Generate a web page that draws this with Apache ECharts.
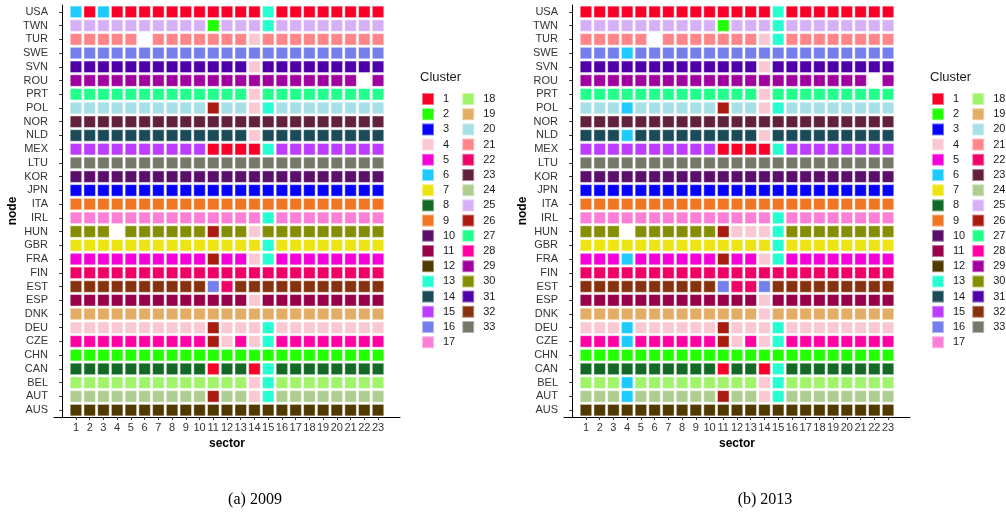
<!DOCTYPE html>
<html>
<head>
<meta charset="utf-8">
<script src="https://cdn.jsdelivr.net/npm/echarts@6/dist/echarts.min.js"></script>
<style>
  html, body { margin: 0; padding: 0; background: #fff; }
  #chart { width: 1006px; height: 522px; }
</style>
</head>
<body>
<div id="chart"></div>
<script>
// Country nodes, top row first
const nodes = ['USA','TWN','TUR','SWE','SVN','ROU','PRT','POL','NOR','NLD','MEX','LTU','KOR','JPN','ITA','IRL','HUN','GBR','FRA','FIN','EST','ESP','DNK','DEU','CZE','CHN','CAN','BEL','AUT','AUS'];
const sectors = [1,2,3,4,5,6,7,8,9,10,11,12,13,14,15,16,17,18,19,20,21,22,23];
const clusterIds = [1,2,3,4,5,6,7,8,9,10,11,12,13,14,15,16,17,18,19,20,21,22,23,24,25,26,27,28,29,30,31,32,33];
const clusterColors = ['#F90028','#22FF00','#0800FF','#FAC8D2','#F500D8','#1ECBFF','#EDE414','#136A27','#F07624','#5B0F6A','#98004A','#503A00','#26FFD2','#1B4B58','#BC3CFF','#747FEB','#FB7FD6','#A0F46A','#E4AD66','#A6DFE6','#FF8589','#EF0066','#61213C','#AECD90','#D6B0F6','#A91A10','#22FF8B','#FF00A2','#A0009F','#858D00','#5000A8','#86320F','#767869'];
const panelCaptions = ['(a) 2009', '(b) 2013'];

// Cluster of each (node, sector) cell; 0 = no cell
const tiles2009 = [
  [6,1,6,1,1, 1,1,1,1,1, 1,1,1,1,13, 1,1,1,1,1, 1,1,1],
  [25,25,25,25,25, 25,25,25,25,25, 2,25,25,25,13, 25,25,25,25,25, 25,25,25],
  [21,21,21,21,21, 0,21,21,21,21, 21,21,21,4,21, 21,21,21,21,21, 21,21,21],
  [16,16,16,16,16, 16,16,16,16,16, 16,16,16,16,16, 16,16,16,16,16, 16,16,16],
  [31,31,31,31,31, 31,31,31,31,31, 31,31,31,4,31, 31,31,31,31,31, 31,31,31],
  [29,29,29,29,29, 29,29,29,29,29, 29,29,29,29,29, 29,29,29,29,29, 29,0,29],
  [27,27,27,27,27, 27,27,27,27,27, 27,27,27,4,27, 27,27,27,27,27, 27,27,27],
  [20,20,20,20,20, 20,20,20,20,20, 26,20,20,4,13, 20,20,20,20,20, 20,20,20],
  [23,23,23,23,23, 23,23,23,23,23, 23,23,23,23,23, 23,23,23,23,23, 23,23,23],
  [14,14,14,14,14, 14,14,14,14,14, 14,14,14,4,14, 14,14,14,14,14, 14,14,14],
  [15,15,15,15,15, 15,15,15,15,15, 1,1,1,1,13, 15,15,15,15,15, 15,15,15],
  [33,33,33,33,33, 33,33,33,33,33, 33,33,33,33,33, 33,33,33,33,33, 33,33,33],
  [10,10,10,10,10, 10,10,10,10,10, 10,10,10,10,10, 10,10,10,10,10, 10,10,10],
  [3,3,3,3,3, 3,3,3,3,3, 3,3,3,3,3, 3,3,3,3,3, 3,3,3],
  [9,9,9,9,9, 9,9,9,9,9, 9,9,9,9,9, 9,9,9,9,9, 9,9,9],
  [17,17,17,17,17, 17,17,17,17,17, 17,17,17,17,13, 17,17,17,17,17, 17,17,17],
  [30,30,30,0,30, 30,30,30,30,30, 26,30,30,4,30, 30,30,30,30,30, 30,30,30],
  [7,7,7,7,7, 7,7,7,7,7, 7,7,7,7,13, 7,7,7,7,7, 7,7,7],
  [5,5,5,5,5, 5,5,5,5,5, 26,5,5,4,13, 5,5,5,5,5, 5,5,5],
  [22,22,22,22,22, 22,22,22,22,22, 22,22,22,22,22, 22,22,22,22,22, 22,22,22],
  [32,32,32,32,32, 32,32,32,32,32, 16,22,32,32,32, 32,32,32,32,32, 32,32,32],
  [11,11,11,11,11, 11,11,11,11,11, 11,11,11,4,11, 11,11,11,11,11, 11,11,11],
  [19,19,19,19,19, 19,19,19,19,19, 19,19,19,19,19, 19,19,19,19,19, 19,19,19],
  [4,4,4,4,4, 4,4,4,4,4, 26,4,4,4,13, 4,4,4,4,4, 4,4,4],
  [28,28,28,28,28, 28,28,28,28,28, 26,4,28,4,13, 28,28,28,28,28, 28,28,28],
  [2,2,2,2,2, 2,2,2,2,2, 2,2,2,2,2, 2,2,2,2,2, 2,2,2],
  [8,8,8,8,8, 8,8,8,8,8, 1,8,8,1,13, 8,8,8,8,8, 8,8,8],
  [18,18,18,18,18, 18,18,18,18,18, 18,18,18,4,13, 18,18,18,18,18, 18,18,18],
  [24,24,24,24,24, 24,24,24,24,24, 26,24,24,4,13, 24,24,24,24,24, 24,24,24],
  [12,12,12,12,12, 12,12,12,12,12, 12,12,12,12,12, 12,12,12,12,12, 12,12,12]
];

const tiles2013 = [
  [1,1,1,1,1, 1,1,1,1,1, 1,1,1,1,13, 1,1,1,1,1, 1,1,1],
  [25,25,25,25,25, 25,25,25,25,25, 2,25,25,25,13, 25,25,25,25,25, 25,25,25],
  [21,21,21,21,21, 0,21,21,21,21, 21,21,21,4,13, 21,21,21,21,21, 21,21,21],
  [16,16,16,6,16, 16,16,16,16,16, 16,16,16,16,16, 16,16,16,16,16, 16,16,16],
  [31,31,31,31,31, 31,31,31,31,31, 31,31,31,4,31, 31,31,31,31,31, 31,31,31],
  [29,29,29,29,29, 29,29,29,29,29, 29,29,29,29,29, 29,29,29,29,29, 29,0,29],
  [27,27,27,27,27, 27,27,27,27,27, 27,27,27,4,27, 27,27,27,27,27, 27,27,27],
  [20,20,20,6,20, 20,20,20,20,20, 26,20,20,4,13, 20,20,20,20,20, 20,20,20],
  [23,23,23,23,23, 23,23,23,23,23, 23,23,23,23,23, 23,23,23,23,23, 23,23,23],
  [14,14,14,6,14, 14,14,14,14,14, 14,14,14,4,14, 14,14,14,14,14, 14,14,14],
  [15,15,15,15,15, 15,15,15,15,15, 1,1,1,1,13, 15,15,15,15,15, 15,15,15],
  [33,33,33,33,33, 33,33,33,33,33, 33,33,33,33,33, 33,33,33,33,33, 33,33,33],
  [10,10,10,10,10, 10,10,10,10,10, 10,10,10,10,10, 10,10,10,10,10, 10,10,10],
  [3,3,3,3,3, 3,3,3,3,3, 3,3,3,3,3, 3,3,3,3,3, 3,3,3],
  [9,9,9,9,9, 9,9,9,9,9, 9,9,9,9,9, 9,9,9,9,9, 9,9,9],
  [17,17,17,17,17, 17,17,17,17,17, 17,17,17,17,13, 17,17,17,17,17, 17,17,17],
  [30,30,30,0,30, 30,30,30,30,30, 26,4,4,4,13, 30,30,30,30,30, 30,30,30],
  [7,7,7,7,7, 7,7,7,7,7, 7,7,7,7,13, 7,7,7,7,7, 7,7,7],
  [5,5,5,6,5, 5,5,5,5,5, 26,5,5,4,13, 5,5,5,5,5, 5,5,5],
  [22,22,22,22,22, 22,22,22,22,22, 22,22,22,22,22, 22,22,22,22,22, 22,22,22],
  [32,32,32,32,32, 32,32,32,32,32, 16,22,22,16,32, 32,32,32,32,32, 32,32,32],
  [11,11,11,11,11, 11,11,11,11,11, 11,11,11,4,11, 11,11,11,11,11, 11,11,11],
  [19,19,19,19,19, 19,19,19,19,19, 19,19,19,4,19, 19,19,19,19,19, 19,19,19],
  [4,4,4,6,4, 4,4,4,4,4, 26,4,4,4,13, 4,4,4,4,4, 4,4,4],
  [28,28,28,6,28, 28,28,28,28,28, 26,4,28,4,13, 28,28,28,28,28, 28,28,28],
  [2,2,2,2,2, 2,2,2,2,2, 2,2,2,2,2, 2,2,2,2,2, 2,2,2],
  [8,8,8,8,8, 8,8,8,8,8, 1,8,8,1,13, 8,8,8,8,8, 8,8,8],
  [18,18,18,6,18, 18,18,18,18,18, 18,18,18,4,13, 18,18,18,18,18, 18,18,18],
  [24,24,24,6,24, 24,24,24,24,24, 26,24,24,4,13, 24,24,24,24,24, 24,24,24],
  [12,12,12,12,12, 12,12,12,12,12, 12,12,12,12,12, 12,12,12,12,12, 12,12,12]
];

const panels = [tiles2009, tiles2013];
const PANEL_SHIFT = 510;
const SANS = '"Liberation Sans", Arial, sans-serif';
const AXIS_TEXT = '#333';

const chart = echarts.init(document.getElementById('chart'), null, { renderer: 'canvas' });

const grids = [], xAxes = [], yAxes = [], series = [], legends = [], titles = [], graphics = [];

panels.forEach((tiles, p) => {
  const dx = p * PANEL_SHIFT;
  grids.push({ left: 54 + dx, top: 5, width: 346, height: 412, containLabel: false });

  xAxes.push({
    type: 'value', gridIndex: p, min: -0.6, max: 24.6,
    name: 'sector', nameLocation: 'middle', nameGap: 21,
    nameTextStyle: { fontFamily: SANS, fontSize: 12, fontWeight: 'bold', color: '#000' },
    axisLine: { show: true, lineStyle: { color: '#000', width: 1 } },
    axisTick: { show: true, customValues: sectors, length: 3, lineStyle: { color: AXIS_TEXT } },
    axisLabel: { customValues: sectors, fontFamily: SANS, fontSize: 11, color: AXIS_TEXT, margin: 5 },
    splitLine: { show: false }
  });

  yAxes.push({
    type: 'category', gridIndex: p, data: nodes, inverse: true,
    name: 'node', nameLocation: 'middle', nameGap: 35, nameRotate: 90,
    nameTextStyle: { fontFamily: SANS, fontSize: 12, fontWeight: 'bold', color: '#000' },
    axisLine: { show: true, lineStyle: { color: '#000', width: 1 } },
    axisTick: { show: true, alignWithLabel: true, interval: 0, length: 3, lineStyle: { color: AXIS_TEXT } },
    axisLabel: { interval: 0, fontFamily: SANS, fontSize: 11, color: AXIS_TEXT, margin: 6 },
    splitLine: { show: false }
  });

  clusterIds.forEach((c, ci) => {
    const data = [];
    tiles.forEach((row, r) => {
      row.forEach((v, s) => { if (v === c) data.push([sectors[s], nodes[r]]); });
    });
    series.push({
      type: 'scatter', name: String(c), xAxisIndex: p, yAxisIndex: p,
      symbol: 'rect', symbolSize: 11.5,
      itemStyle: { color: clusterColors[ci], borderColor: 'rgba(255,255,255,0.45)', borderWidth: 1, opacity: 1 },
      emphasis: { disabled: true },
      data: data
    });
  });

  legends.push({
    data: clusterIds.map(String),
    orient: 'vertical', left: 421 + dx, top: 92, height: 262,
    itemWidth: 12, itemHeight: 12, itemGap: 1.2, icon: 'rect', padding: 0,
    selectedMode: false,
    textStyle: { fontFamily: SANS, fontSize: 11, lineHeight: 12, color: '#1a1a1a', width: 17, padding: [0, 0, 0, 4] }
  });

  titles.push({
    text: 'Cluster', left: 420 + dx, top: 71, padding: 0,
    textStyle: { fontFamily: SANS, fontSize: 13, fontWeight: 'normal', color: '#1a1a1a' }
  });

  graphics.push({
    type: 'text', x: 255 + dx, y: 500,
    style: { text: panelCaptions[p], font: '16px "Liberation Serif", "DejaVu Serif", serif', fill: '#000', align: 'center', verticalAlign: 'middle' }
  });
});

chart.setOption({
  animation: false,
  backgroundColor: '#fff',
  title: titles,
  grid: grids,
  xAxis: xAxes,
  yAxis: yAxes,
  legend: legends,
  graphic: graphics,
  series: series
});
</script>
</body>
</html>
